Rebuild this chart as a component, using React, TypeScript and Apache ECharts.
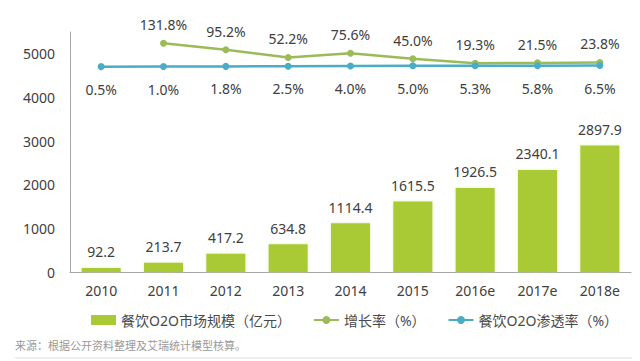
import React, { useEffect, useRef } from "react";
import * as echarts from "echarts";

const categories = ["2010", "2011", "2012", "2013", "2014", "2015", "2016e", "2017e", "2018e"];
const marketSize = [92.2, 213.7, 417.2, 634.8, 1114.4, 1615.5, 1926.5, 2340.1, 2897.9];
const growthRate: (number | null)[] = [null, 131.8, 95.2, 52.2, 75.6, 45.0, 19.3, 21.5, 23.8];
const penetration = [0.5, 1.0, 1.8, 2.5, 4.0, 5.0, 5.3, 5.8, 6.5];
const yTicks = [0, 1000, 2000, 3000, 4000, 5000];

const FONT = '"Noto Sans", "Noto Sans CJK SC", sans-serif';
const TEXT = "#404040";

export default function App() {
  const ref = useRef<HTMLDivElement>(null);
  useEffect(() => {
    if (!ref.current) return;
    const chart = echarts.init(ref.current, null, { renderer: "svg" });
    chart.setOption({
      animation: false,
      backgroundColor: "#ffffff",
      textStyle: { fontFamily: FONT },
      grid: { left: 70, right: 9, top: 32, bottom: 89 },
      legend: {
        left: 86,
        top: 308,
        itemGap: 22,
        itemWidth: 25,
        itemHeight: 10,
        textStyle: { fontSize: 14, color: "#4a4a4a", fontFamily: FONT },
        data: [
          { name: "餐饮O2O市场规模（亿元）", icon: "rect" },
          { name: "增长率（%）" },
          { name: "餐饮O2O渗透率（%）" },
        ],
      },
      graphic: [
        {
          type: "text",
          left: 15,
          top: 340,
          style: { text: "来源：根据公开资料整理及艾瑞统计模型核算。", fontSize: 11, fill: "#999999", fontFamily: FONT },
        },
        {
          type: "line",
          shape: { x1: 15, y1: 358, x2: 632, y2: 358 },
          style: { stroke: "#dddddd", lineWidth: 1 },
        },
      ],
      xAxis: {
        type: "category",
        data: categories,
        axisLine: { lineStyle: { color: "#a6a6a6", width: 1 } },
        axisTick: { show: false },
        axisLabel: { fontSize: 14, color: TEXT, margin: 11, fontFamily: FONT },
      },
      yAxis: [
        {
          type: "value",
          min: 0,
          max: 5500,
          interval: 1000,
          axisLine: { show: true, lineStyle: { color: "#a6a6a6", width: 1 } },
          axisTick: { show: false },
          splitLine: { show: false },
          axisLabel: {
            fontSize: 14,
            color: TEXT,
            margin: 15,
            fontFamily: FONT,
            showMaxLabel: false,
            formatter: (v: number) => (yTicks.includes(v) ? String(v) : ""),
          },
        },
        {
          type: "value",
          min: -1153,
          max: 195,
          show: false,
          splitLine: { show: false },
        },
      ],
      series: [
        {
          name: "餐饮O2O市场规模（亿元）",
          type: "bar",
          data: marketSize,
          barWidth: 39,
          itemStyle: { color: "#a9c935", shadowColor: "rgba(200,230,120,0.6)", shadowBlur: 3 },
          label: { show: true, position: "top", distance: 9, fontSize: 14, color: TEXT, fontFamily: FONT },
        },
        {
          name: "增长率（%）",
          type: "line",
          yAxisIndex: 1,
          data: growthRate,
          symbol: "circle",
          symbolSize: 7,
          lineStyle: { color: "#9bbb59", width: 2.5 },
          itemStyle: { color: "#9bbb59" },
          label: {
            show: true,
            position: "top",
            distance: 8,
            fontSize: 14,
            color: TEXT,
            fontFamily: FONT,
            formatter: (p: any) => Number(p.value).toFixed(1) + "%",
          },
        },
        {
          name: "餐饮O2O渗透率（%）",
          type: "line",
          yAxisIndex: 1,
          data: penetration,
          symbol: "circle",
          symbolSize: 7,
          lineStyle: { color: "#4bacc6", width: 2.5 },
          itemStyle: { color: "#4bacc6" },
          label: {
            show: true,
            position: "bottom",
            distance: 12,
            fontSize: 14,
            color: TEXT,
            fontFamily: FONT,
            formatter: (p: any) => Number(p.value).toFixed(1) + "%",
          },
        },
      ],
    });
    return () => chart.dispose();
  }, []);
  return <div ref={ref} style={{ width: 640, height: 361, position: "absolute", left: 0, top: 0 }} />;
}
